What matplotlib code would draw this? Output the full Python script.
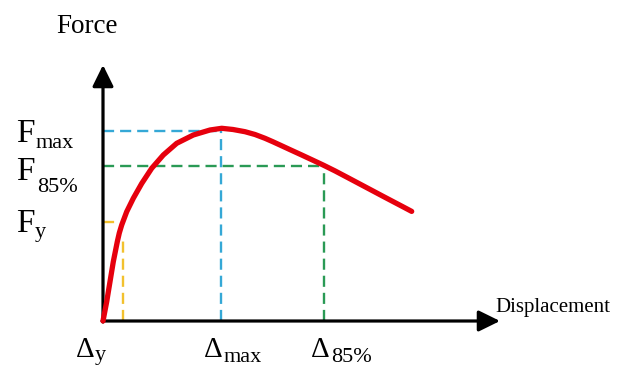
import matplotlib
matplotlib.use("Agg")
import matplotlib.pyplot as plt

plt.rcParams['font.family'] = ['Liberation Serif', 'DejaVu Serif']
plt.rcParams['lines.scale_dashes'] = False

# ---- data (schematic force-displacement curve) ----
displacement = [0.0, 0.37, 0.70, 1.03, 1.43, 1.63, 1.87, 2.37, 3.03, 3.87,
                4.87, 6.03, 7.37, 9.03, 10.7, 11.87, 13.0, 14.2, 15.2, 16.2,
                17.0, 17.87, 18.8, 19.87, 20.9, 22.03, 23.2, 24.53, 25.7,
                26.87, 28.0, 29.2, 30.0, 30.87]
force = [0.0, 9.65, 19.65, 29.65, 39.65, 44.0, 48.0, 54.65, 61.35, 68.75,
         76.35, 83.0, 88.85, 93.0, 95.5, 96.35, 95.75, 94.65, 93.25, 91.35,
         89.6, 87.6, 85.45, 83.0, 80.6, 77.95, 75.05, 71.55, 68.45,
         65.35, 62.35, 59.2, 57.1, 54.8]

F_max, F_85, F_y = 95.0, 77.5, 49.5
D_max, D_85, D_y = 11.75, 22.05, 1.98
yield_h_end = 1.3      # end of the short horizontal yield guide
yield_v_top = 40.5     # top of the vertical yield guide

x_axis_end, y_axis_end = 39.7, 128.0
xlim = (-10.3, 52.7)
ylim = (-23.0, 160.5)

axis_label_x = "Displacement"
axis_label_y = "Force"

RED = '#e6000d'
BLUE = '#35a8d6'
GREEN = '#2a9a55'
YELLOW = '#f2c12e'

W, H = 630, 367
fig = plt.figure(figsize=(W / 100, H / 100), dpi=100)
ax = fig.add_axes([0, 0, 1, 1])
ax.set_xlim(*xlim)
ax.set_ylim(*ylim)
ax.axis('off')

dash = (0, (8, 4.3))
lw_d = 1.7
# guide lines
ax.plot([0, D_max], [F_max, F_max], color=BLUE, lw=lw_d, ls=dash)
ax.plot([D_max, D_max], [0, F_max], color=BLUE, lw=lw_d, ls=dash)
ax.plot([0, D_85], [F_85, F_85], color=GREEN, lw=lw_d, ls=dash)
ax.plot([D_85, D_85], [0, F_85], color=GREEN, lw=lw_d, ls=dash)
ax.plot([0, yield_h_end], [F_y, F_y], color=YELLOW, lw=lw_d, ls=dash)
ax.plot([D_y, D_y], [0, yield_v_top], color=YELLOW, lw=lw_d, ls=dash)

# axes with arrows
ap = dict(arrowstyle='-|>,head_length=0.65,head_width=0.32', color='black',
          lw=2.3, shrinkA=0, shrinkB=0, mutation_scale=20)
ax.annotate('', xy=(x_axis_end, 0), xytext=(-0.1, 0), arrowprops=ap)
ax.annotate('', xy=(0, y_axis_end), xytext=(0, -0.5), arrowprops=ap)

# curve
ax.plot(displacement, force, color=RED, lw=3.8, solid_capstyle='round',
        solid_joinstyle='round', zorder=5)


def px(x, y):
    return x / W, 1 - y / H


def label(x, y, s, size):
    fig.text(*px(x, y), s, fontsize=size, ha='left', va='baseline')


fig.text(*px(87, 33), axis_label_y, fontsize=19.5, ha='center', va='baseline')
fig.text(*px(495, 312), axis_label_x, fontsize=15, ha='left', va='baseline')

label(16, 142, "F", 24); label(36, 148, "max", 16)
label(16, 180, "F", 24); label(37, 192, "85%", 16)
label(16, 232, "F", 24); label(35, 237, "y", 16)

label(76, 357, "Δ", 21); label(95, 360, "y", 16)
label(204, 357, "Δ", 21); label(224, 362, "max", 16)
label(311, 357, "Δ", 21); label(331, 362, "85%", 16)

fig.savefig("out.png", dpi=100)
